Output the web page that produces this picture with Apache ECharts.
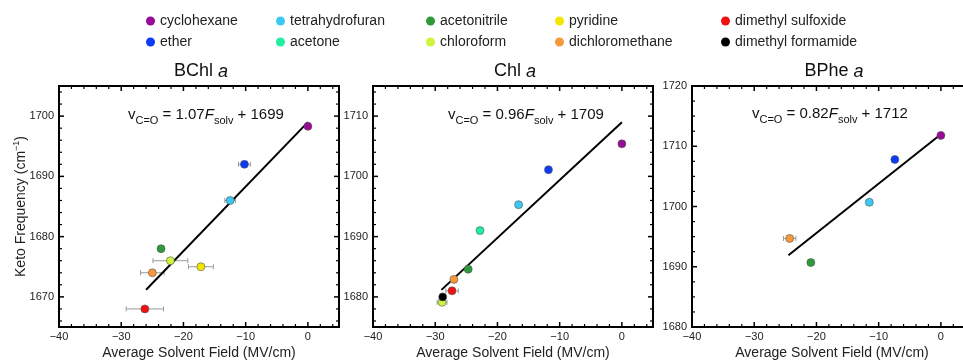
<!DOCTYPE html>
<html><head><meta charset="utf-8">
<script src="https://cdn.jsdelivr.net/npm/echarts@6/dist/echarts.min.js"></script>
<style>html,body{margin:0;padding:0;background:#fff}#c{width:963px;height:361px}</style>
</head><body><div id="c"></div>
<script>
// ---------- data ----------
const solvents = ['cyclohexane','ether','tetrahydrofuran','acetone','acetonitrile','chloroform','pyridine','dichloromethane','dimethyl sulfoxide','dimethyl formamide'];
const solventColors = ['#980a98','#0b3bf5','#3cc8f5','#1ef0a0','#2e9a3a','#ccf53c','#f5e600','#f7993a','#f01010','#000000'];
const legendColumns = [[0,1],[2,3],[4,5],[6,7],[8,9]];

const panelNames = ['BChl','Chl','BPhe'];
const fitSlope = [1.07, 0.96, 0.82];
const fitIntercept = [1699, 1709, 1712];
const fitFrom = [-26, -29, -24.5];
const fitTo = [0, 0, 0];

// per panel: field (MV/cm), keto frequency (cm-1), field error bar (±)
const bchlField = [0, -10.2, -12.5, null, -23.6, -22.1, -17.2, -25.0, -26.2, null];
const bchlFreq  = [1698.3, 1692.0, 1686.0, null, 1678.0, 1676.0, 1675.0, 1674.0, 1668.0, null];
const bchlErr   = [0, 0.95, 0.85, null, 0, 2.8, 2.0, 1.9, 3.0, null];

const chlField = [0, -11.8, -16.6, -22.8, -24.7, -28.9, null, -27.0, -27.3, -28.8];
const chlFreq  = [1705.4, 1701.1, 1695.3, 1691.0, 1684.6, 1679.1, null, 1682.9, 1681.0, 1680.0];
const chlErr   = [0, 0, 0, 0, 0, 0.8, null, 0, 1.0, 0];

const bpheField = [0, -7.4, -11.5, null, -20.9, null, null, -24.3, null, null];
const bpheFreq  = [1711.8, 1707.8, 1700.7, null, 1690.7, null, null, 1694.7, null, null];
const bpheErr   = [0, 0, 0, null, 0, null, null, 1.0, null, null];

const xRange = [-40, 5];
const xMajorTicks = [-40, -30, -20, -10, 0];
const xMinorStep = 2;
const yRanges = [[1665, 1705], [1675, 1715], [1680, 1720]];
const yMajorTicks = [[1670, 1680, 1690, 1700], [1680, 1690, 1700, 1710], [1680, 1690, 1700, 1710, 1720]];
const yMinorSteps = [2, 2, 2.5];

const xAxisName = 'Average Solvent Field (MV/cm)';
const yAxisName = 'Keto Frequency (cm{sup|−1})';

// ---------- layout ----------
const FONT = "'Liberation Sans', Arial, Helvetica, sans-serif";
const grids = [
  {left: 59, top: 86, width: 280, height: 241},
  {left: 373, top: 86, width: 280, height: 241},
  {left: 692, top: 86, width: 280, height: 241}
];
const legendLefts = [141, 271, 421, 550, 716];
const eqPos = [[128, 115], [448, 115], [752, 114]];

const fields = [bchlField, chlField, bpheField];
const freqs = [bchlFreq, chlFreq, bpheFreq];
const errs = [bchlErr, chlErr, bpheErr];

function minorTicks(min, max, step, majors) {
  const out = [];
  for (let v = Math.ceil(min / step) * step; v <= max + 1e-9; v += step) {
    const r = Math.round(v * 1000) / 1000;
    if (r > min && r < max && majors.indexOf(r) < 0) out.push(r);
  }
  return out;
}
const fmt = v => (v < 0 ? '\u2212' + (-v) : String(v));

const xAxes = [], yAxes = [];
const gridOpts = grids.map(g => Object.assign({show: true, borderColor: '#000', borderWidth: 2,
  backgroundColor: 'transparent', containLabel: false, outerBoundsMode: 'none'}, g));
grids.forEach((g, i) => {
  const line = {onZero: false, lineStyle: {color: '#000', width: 2}};
  xAxes.push({type: 'value', gridIndex: i, min: xRange[0], max: xRange[1], position: 'bottom',
    splitLine: {show: false}, axisLine: line, axisTick: {show: false},
    axisLabel: {customValues: xMajorTicks, formatter: fmt, fontSize: 11, color: '#222', margin: 4, fontFamily: FONT},
    name: xAxisName, nameLocation: 'middle', nameGap: 19, nameMoveOverlap: false,
    nameTextStyle: {fontSize: 14, color: '#222', fontFamily: FONT}});
  const yMain = {type: 'value', gridIndex: i, min: yRanges[i][0], max: yRanges[i][1], position: 'left',
    splitLine: {show: false}, axisLine: line, axisTick: {show: false},
    axisLabel: {customValues: yMajorTicks[i], formatter: v => String(v), fontSize: 11, color: '#222', margin: 5, fontFamily: FONT}};
  if (i === 0) {
    Object.assign(yMain, {name: yAxisName, nameLocation: 'middle', nameGap: 29, nameMoveOverlap: false,
      nameTextStyle: {fontSize: 14, color: '#222', fontFamily: FONT, lineHeight: 18,
        rich: {sup: {fontSize: 9, verticalAlign: 'top', lineHeight: 10, fontFamily: FONT, color: '#222'}}}});
  }
  yAxes.push(yMain);
});

const series = [];
grids.forEach((g, p) => {
  // tick marks on all four sides: [x, y, kind] kind 0/1 = x major/minor, 2/3 = y major/minor
  const yr = yRanges[p];
  const tickData = [];
  xMajorTicks.forEach(v => tickData.push([v, yr[0], 0]));
  minorTicks(xRange[0], xRange[1], xMinorStep, xMajorTicks).forEach(v => tickData.push([v, yr[0], 1]));
  yMajorTicks[p].forEach(v => tickData.push([xRange[0], v, 2]));
  minorTicks(yr[0], yr[1], yMinorSteps[p], yMajorTicks[p]).forEach(v => tickData.push([xRange[0], v, 3]));
  series.push({
    type: 'custom', xAxisIndex: p, yAxisIndex: p, z: 1, silent: true, clip: false,
    encode: {x: 0, y: 1}, data: tickData,
    renderItem: function (params, api) {
      const k = api.value(2);
      const len = (k === 0 || k === 2) ? 5 : 3;
      const st = {stroke: '#000', lineWidth: (k === 0 || k === 2) ? 1.5 : 1.2};
      if (k < 2) {
        const v = api.value(0);
        const b = api.coord([v, yr[0]]), t = api.coord([v, yr[1]]);
        return {type: 'group', children: [
          {type: 'line', shape: {x1: b[0], y1: b[1], x2: b[0], y2: b[1] - len}, style: st},
          {type: 'line', shape: {x1: t[0], y1: t[1], x2: t[0], y2: t[1] + len}, style: st}
        ]};
      }
      const v = api.value(1);
      const l = api.coord([xRange[0], v]), r = api.coord([xRange[1], v]);
      return {type: 'group', children: [
        {type: 'line', shape: {x1: l[0], y1: l[1], x2: l[0] + len, y2: l[1]}, style: st},
        {type: 'line', shape: {x1: r[0], y1: r[1], x2: r[0] - len, y2: r[1]}, style: st}
      ]};
    }
  });
  // error bars
  const errData = [];
  solvents.forEach((s, k) => {
    if (fields[p][k] !== null && errs[p][k] > 0) errData.push([fields[p][k], freqs[p][k], errs[p][k]]);
  });
  series.push({
    type: 'custom', xAxisIndex: p, yAxisIndex: p, z: 2, silent: true,
    encode: {x: 0, y: 1}, data: errData,
    renderItem: function (params, api) {
      const x = api.value(0), y = api.value(1), e = api.value(2);
      const a = api.coord([x - e, y]), b = api.coord([x + e, y]);
      const st = {stroke: '#9a9a9a', lineWidth: 1};
      return {type: 'group', children: [
        {type: 'line', shape: {x1: a[0], y1: a[1], x2: b[0], y2: b[1]}, style: st},
        {type: 'line', shape: {x1: a[0], y1: a[1] - 2.5, x2: a[0], y2: a[1] + 2.5}, style: st},
        {type: 'line', shape: {x1: b[0], y1: b[1] - 2.5, x2: b[0], y2: b[1] + 2.5}, style: st}
      ]};
    }
  });
  // fit line
  series.push({
    type: 'line', xAxisIndex: p, yAxisIndex: p, z: 3, silent: true, showSymbol: false,
    lineStyle: {color: '#000', width: 2},
    data: [[fitFrom[p], fitSlope[p] * fitFrom[p] + fitIntercept[p]], [fitTo[p], fitSlope[p] * fitTo[p] + fitIntercept[p]]]
  });
  // points
  solvents.forEach((s, k) => {
    if (fields[p][k] === null) return;
    series.push({
      type: 'scatter', name: s, xAxisIndex: p, yAxisIndex: p, z: 5,
      symbolSize: 8, data: [[fields[p][k], freqs[p][k]]],
      itemStyle: {color: solventColors[k], borderColor: '#555', borderWidth: 0.6, opacity: 1}
    });
  });
});

const legends = legendColumns.map((col, k) => ({
  orient: 'vertical', left: legendLefts[k], top: 9, icon: 'circle',
  itemWidth: 9, itemHeight: 9, itemGap: 7,
  data: col.map(i => ({name: solvents[i], itemStyle: {color: solventColors[i], borderWidth: 0}})),
  textStyle: {fontSize: 14, color: '#222', fontFamily: FONT}
}));

const graphics = [];
grids.forEach((g, p) => {
  graphics.push({
    type: 'text', x: g.left + g.width / 2 + 2, y: 71.5, silent: true,
    style: {text: panelNames[p] + ' {i|a}', align: 'center', verticalAlign: 'middle',
      fontSize: 18, fontFamily: FONT, fill: '#111',
      rich: {i: {fontStyle: 'italic', fontSize: 18, fontFamily: FONT, fill: '#111'}}}
  });
  const eq = '{m|v}{s|C=O}{m| = ' + fitSlope[p].toFixed(2) + '}{i|F}{t|solv}{m| + ' + fitIntercept[p] + '}';
  graphics.push({
    type: 'text', x: eqPos[p][0], y: eqPos[p][1], silent: true,
    style: {text: eq, align: 'left', verticalAlign: 'middle', fontFamily: FONT, fill: '#111',
      rich: {
        m: {fontSize: 15, lineHeight: 22, fontFamily: FONT, fill: '#111', verticalAlign: 'middle'},
        i: {fontSize: 15, lineHeight: 22, fontStyle: 'italic', fontFamily: FONT, fill: '#111', verticalAlign: 'middle'},
        s: {fontSize: 11, lineHeight: 11, fontFamily: FONT, fill: '#111', verticalAlign: 'bottom'},
        t: {fontSize: 11, lineHeight: 14, fontFamily: FONT, fill: '#111', verticalAlign: 'bottom'}
      }}
  });
});

const chart = echarts.init(document.getElementById('c'), null, {renderer: 'canvas'});
chart.setOption({
  animation: false,
  backgroundColor: '#fff',
  textStyle: {fontFamily: FONT},
  legend: legends,
  grid: gridOpts,
  xAxis: xAxes,
  yAxis: yAxes,
  series: series,
  graphic: graphics
});
</script>
</body></html>
